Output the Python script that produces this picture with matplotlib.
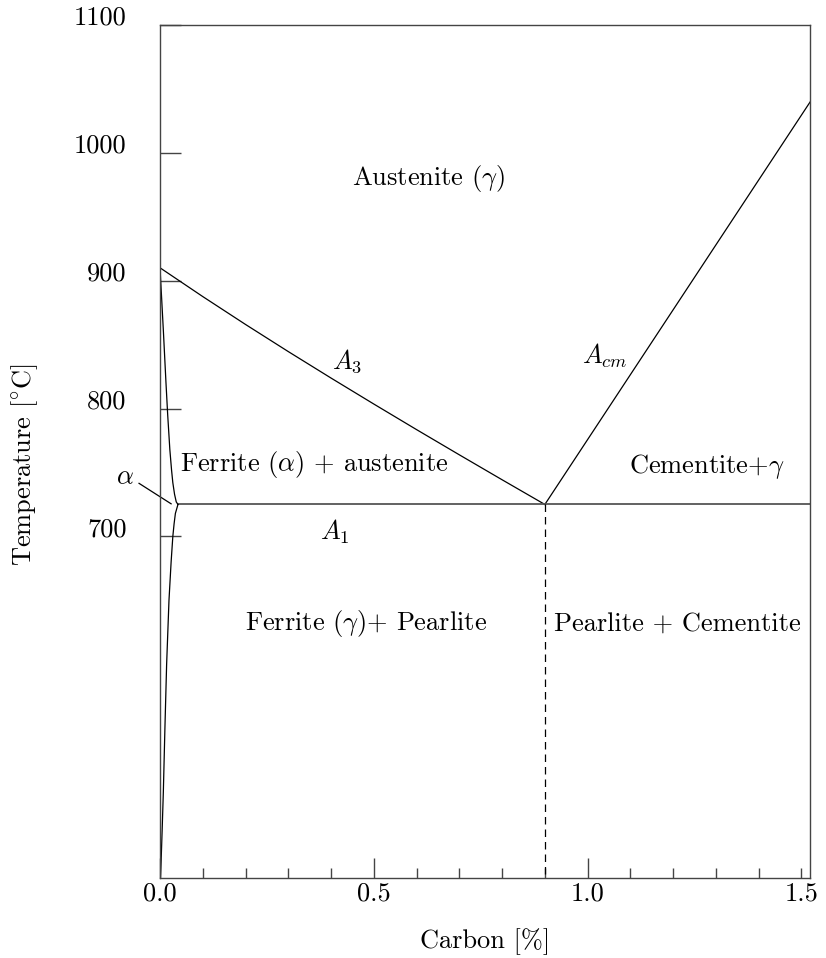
import matplotlib
matplotlib.use("Agg")
import matplotlib.pyplot as plt
from matplotlib.ticker import FixedLocator, FixedFormatter, MultipleLocator

plt.rcParams['font.family'] = 'serif'
plt.rcParams['font.serif'] = ['cmr10']
plt.rcParams['mathtext.fontset'] = 'cm'
plt.rcParams['axes.formatter.use_mathtext'] = True
plt.rcParams['axes.unicode_minus'] = False

# ---- data (carbon %, temperature °C) ----
A3_C = [0.0, 0.1, 0.2, 0.3, 0.4, 0.5, 0.6, 0.7, 0.8, 0.9]
A3_T = [910, 887.5, 865.7, 844.5, 823.8, 803.5, 783.5, 763.8, 744.3, 725]

ACM_C = [0.9, 1.525]
ACM_T = [725, 1042]

A1_C = [0.042, 1.52]
A1_T = [725, 725]

ALPHA_UP_C = [0.0, 0.004, 0.008, 0.011, 0.014, 0.018, 0.023, 0.027, 0.030, 0.034, 0.038, 0.042]
ALPHA_UP_T = [910, 885, 860, 840, 820, 795, 768, 752, 742, 733, 727, 725]

ALPHA_LOW_C = [0.042, 0.036, 0.033, 0.030, 0.026, 0.021, 0.0155, 0.0115, 0.0078, 0.005, 0.003, 0.001]
ALPHA_LOW_T = [725, 718, 710, 700, 680, 650, 600, 550, 500, 470, 450, 433]

EUTECTOID_C = [0.9, 0.9]
EUTECTOID_T = [725, 433]

X_TICKS = [0.0, 0.5, 1.0, 1.5]
X_TICK_LABELS = ["0.0", "0.5", "1.0", "1.5"]
Y_TICKS = [700, 800, 900, 1000, 1100]
Y_TICK_LABELS = ["700", "800", "900", "1000", "1100"]

LABELS = [
    ("Austenite ($\\gamma$)", 0.629, 980),
    ("$A_3$", 0.437, 837),
    ("$A_{cm}$", 1.041, 841),
    ("Ferrite ($\\alpha$) + austenite", 0.361, 756),
    ("Cementite+$\\gamma$", 1.279, 755),
    ("$A_1$", 0.409, 704),
    ("Ferrite ($\\gamma$)+ Pearlite", 0.482, 632),
    ("Pearlite + Cementite", 1.211, 631),
]

fig = plt.figure(figsize=(8.26, 9.58), dpi=100)
ax = fig.add_axes([0.1937, 0.0835, 0.9806 - 0.1937, 0.9742 - 0.0835])

ax.set_xlim(0, 1.52)
ax.set_ylim(433, 1100)

lc = 'black'
lw = 0.9
ax.plot(A3_C, A3_T, color=lc, lw=lw)
ax.plot(ACM_C, ACM_T, color=lc, lw=lw)
ax.plot(A1_C, A1_T, color='#555555', lw=1.3)
ax.plot(ALPHA_UP_C, ALPHA_UP_T, color=lc, lw=lw)
ax.plot(ALPHA_LOW_C, ALPHA_LOW_T, color=lc, lw=lw)
ax.plot(EUTECTOID_C, EUTECTOID_T, color=lc, lw=lw, dashes=(6, 4))

fs = 19
for txt, x, y in LABELS:
    ax.text(x, y, txt, ha='center', va='center', fontsize=fs)

# alpha annotation with leader line
ax.plot([-0.049, 0.026], [741.5, 725.5], color=lc, lw=lw, clip_on=False)
ax.text(-0.082, 746, "$\\alpha$", ha='center', va='center', fontsize=fs)

for s in ax.spines.values():
    s.set_color('#444444')
    s.set_linewidth(1.0)

ax.xaxis.set_major_locator(FixedLocator(X_TICKS))
ax.xaxis.set_major_formatter(FixedFormatter(X_TICK_LABELS))
ax.xaxis.set_minor_locator(MultipleLocator(0.1))
ax.yaxis.set_major_locator(FixedLocator(Y_TICKS))
ax.yaxis.set_major_formatter(FixedFormatter(Y_TICK_LABELS))

ax.tick_params(axis='x', which='major', direction='in', length=14.5, width=1.0,
               color='#444444', labelsize=fs, pad=3)
ax.tick_params(axis='x', which='minor', direction='in', length=7.2, width=1.0,
               color='#444444')
ax.tick_params(axis='y', which='major', direction='in', length=15, width=1.0,
               color='#444444', labelsize=fs, pad=24)
ax.tick_params(top=False, right=False)

# the 1.5 tick is short
xt = ax.xaxis.get_major_ticks()
xt[3].tick1line.set_markersize(7.2)

plt.setp(ax.get_yticklabels(), va='baseline')

ax.set_xlabel("Carbon [%]", fontsize=fs, va='center')
ax.set_ylabel("Temperature [$^{\\circ}$C]", fontsize=fs, va='center')
ax.xaxis.set_label_coords(0.5, -0.075)
ax.yaxis.set_label_coords(-0.209, 0.484)

fig.savefig("out.png", dpi=100)
